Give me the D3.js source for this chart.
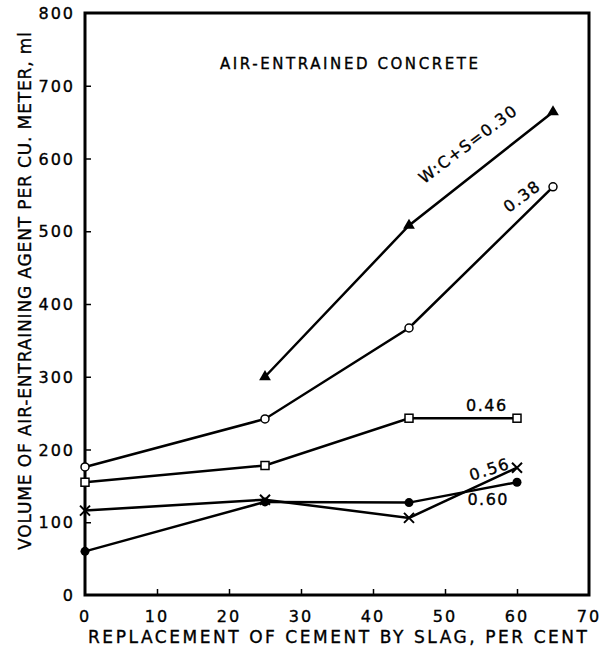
<!DOCTYPE html>
<html>
<head>
<meta charset="utf-8">
<script src="https://cdn.jsdelivr.net/npm/d3@7"></script>
<style>
  body { margin: 0; background: #fff; }
  svg text { font-family: "DejaVu Sans", sans-serif; fill: #000; stroke: #000; stroke-width: 0.35px; }
</style>
</head>
<body>
<div id="chart"></div>
<script>
// data
const xTicks = [0, 10, 20, 30, 40, 50, 60, 70];
const yTicks = [0, 100, 200, 300, 400, 500, 600, 700, 800];

const x030 = [25, 45, 65];
const y030 = [300, 508, 664];
const x038 = [0, 25, 45, 65];
const y038 = [176, 242, 367, 561];
const x046 = [0, 25, 45, 60];
const y046 = [155, 178, 243, 243];
const x056 = [0, 25, 45, 60];
const y056 = [116, 131, 106, 175];
const x060 = [0, 25, 45, 60];
const y060 = [60, 128, 127, 155];

const series = [
  { xs: x030, ys: y030, mark: 'triangle' },
  { xs: x038, ys: y038, mark: 'circleOpen' },
  { xs: x046, ys: y046, mark: 'square' },
  { xs: x056, ys: y056, mark: 'cross' },
  { xs: x060, ys: y060, mark: 'circleFilled' }
];

const width = 612, height = 649;
const margin = { left: 85, right: 23, top: 13, bottom: 54 };

const svg = d3.select('#chart').append('svg')
  .attr('width', width)
  .attr('height', height);

const x = d3.scaleLinear().domain([0, 70]).range([margin.left, width - margin.right]);
const y = d3.scaleLinear().domain([0, 800]).range([height - margin.bottom, margin.top]);

// frame
svg.append('rect')
  .attr('x', x(0)).attr('y', y(800))
  .attr('width', x(70) - x(0)).attr('height', y(0) - y(800))
  .attr('fill', 'none').attr('stroke', '#000').attr('stroke-width', 3);

// ticks (inward)
svg.append('g').attr('transform', `translate(0,${y(0)})`)
  .call(d3.axisBottom(x).tickValues(xTicks.slice(1, -1)).tickSize(-6).tickFormat(''))
  .call(g => g.select('.domain').remove())
  .selectAll('line').attr('stroke-width', 1.5);
svg.append('g').attr('transform', `translate(${x(0)},0)`)
  .call(d3.axisLeft(y).tickValues(yTicks.slice(1, -1)).tickSize(-6).tickFormat(''))
  .call(g => g.select('.domain').remove())
  .selectAll('line').attr('stroke-width', 1.5);

// tick labels
svg.append('g').selectAll('text').data(xTicks).join('text')
  .attr('x', d => x(d)).attr('y', y(0) + 27)
  .attr('text-anchor', 'middle')
  .style('font-size', '16px').style('letter-spacing', '2px')
  .text(d => d);
svg.append('g').selectAll('text').data(yTicks).join('text')
  .attr('x', x(0) - 10).attr('y', d => y(d) + 6)
  .attr('text-anchor', 'end')
  .style('font-size', '16px').style('letter-spacing', '2px')
  .text(d => d);

// axis titles
svg.append('text')
  .attr('x', 88).attr('y', 643)
  .attr('textLength', 499).attr('lengthAdjust', 'spacing')
  .style('font-size', '17px')
  .text('REPLACEMENT OF CEMENT BY SLAG, PER CENT');
svg.append('text')
  .attr('transform', 'translate(31,550) rotate(-90)')
  .attr('textLength', 518).attr('lengthAdjust', 'spacing')
  .style('font-size', '17px')
  .text('VOLUME OF AIR-ENTRAINING AGENT PER CU. METER, ml');

// title
svg.append('text')
  .attr('x', 220).attr('y', 69)
  .attr('textLength', 258).attr('lengthAdjust', 'spacing')
  .style('font-size', '15px')
  .text('AIR-ENTRAINED CONCRETE');

// lines and markers
const line = d3.line().x(d => x(d[0])).y(d => y(d[1]));
series.forEach(s => {
  const pts = s.xs.map((v, i) => [v, s.ys[i]]);
  svg.append('path')
    .attr('d', line(pts))
    .attr('fill', 'none').attr('stroke', '#000').attr('stroke-width', 2.5);

  const g = svg.append('g');
  pts.forEach(p => {
    const cx = x(p[0]), cy = y(p[1]);
    if (s.mark === 'triangle') {
      g.append('path').attr('d', d3.symbol(d3.symbolTriangle, 60)())
        .attr('transform', `translate(${cx},${cy})`).attr('fill', '#000');
    } else if (s.mark === 'circleOpen') {
      g.append('circle').attr('cx', cx).attr('cy', cy).attr('r', 4)
        .attr('fill', '#fff').attr('stroke', '#000').attr('stroke-width', 1.5);
    } else if (s.mark === 'square') {
      g.append('rect').attr('x', cx - 4).attr('y', cy - 4).attr('width', 8).attr('height', 8)
        .attr('fill', '#fff').attr('stroke', '#000').attr('stroke-width', 1.5);
    } else if (s.mark === 'cross') {
      g.append('path').attr('d', `M${cx - 5},${cy - 5}L${cx + 5},${cy + 5}M${cx + 5},${cy - 5}L${cx - 5},${cy + 5}`)
        .attr('stroke', '#000').attr('stroke-width', 2);
    } else {
      g.append('circle').attr('cx', cx).attr('cy', cy).attr('r', 4.5).attr('fill', '#000');
    }
  });
});

// curve labels
const labels = [
  { text: 'W:C+S=0.30', xv: 53.2, yv: 620, rot: -37, fs: 16 },
  { text: '0.38', xv: 60.7, yv: 548, rot: -37, fs: 16 },
  { text: '0.46', xv: 55.8, yv: 260, rot: 0, fs: 16 },
  { text: '0.56', xv: 56.2, yv: 173, rot: -18, fs: 16 },
  { text: '0.60', xv: 56, yv: 132, rot: 0, fs: 16 }
];
svg.append('g').selectAll('text').data(labels).join('text')
  .attr('transform', d => `translate(${x(d.xv)},${y(d.yv)}) rotate(${d.rot})`)
  .attr('text-anchor', 'middle').attr('dy', '0.35em')
  .style('font-size', d => d.fs + 'px').style('letter-spacing', '1.5px')
  .text(d => d.text);
</script>
</body>
</html>
